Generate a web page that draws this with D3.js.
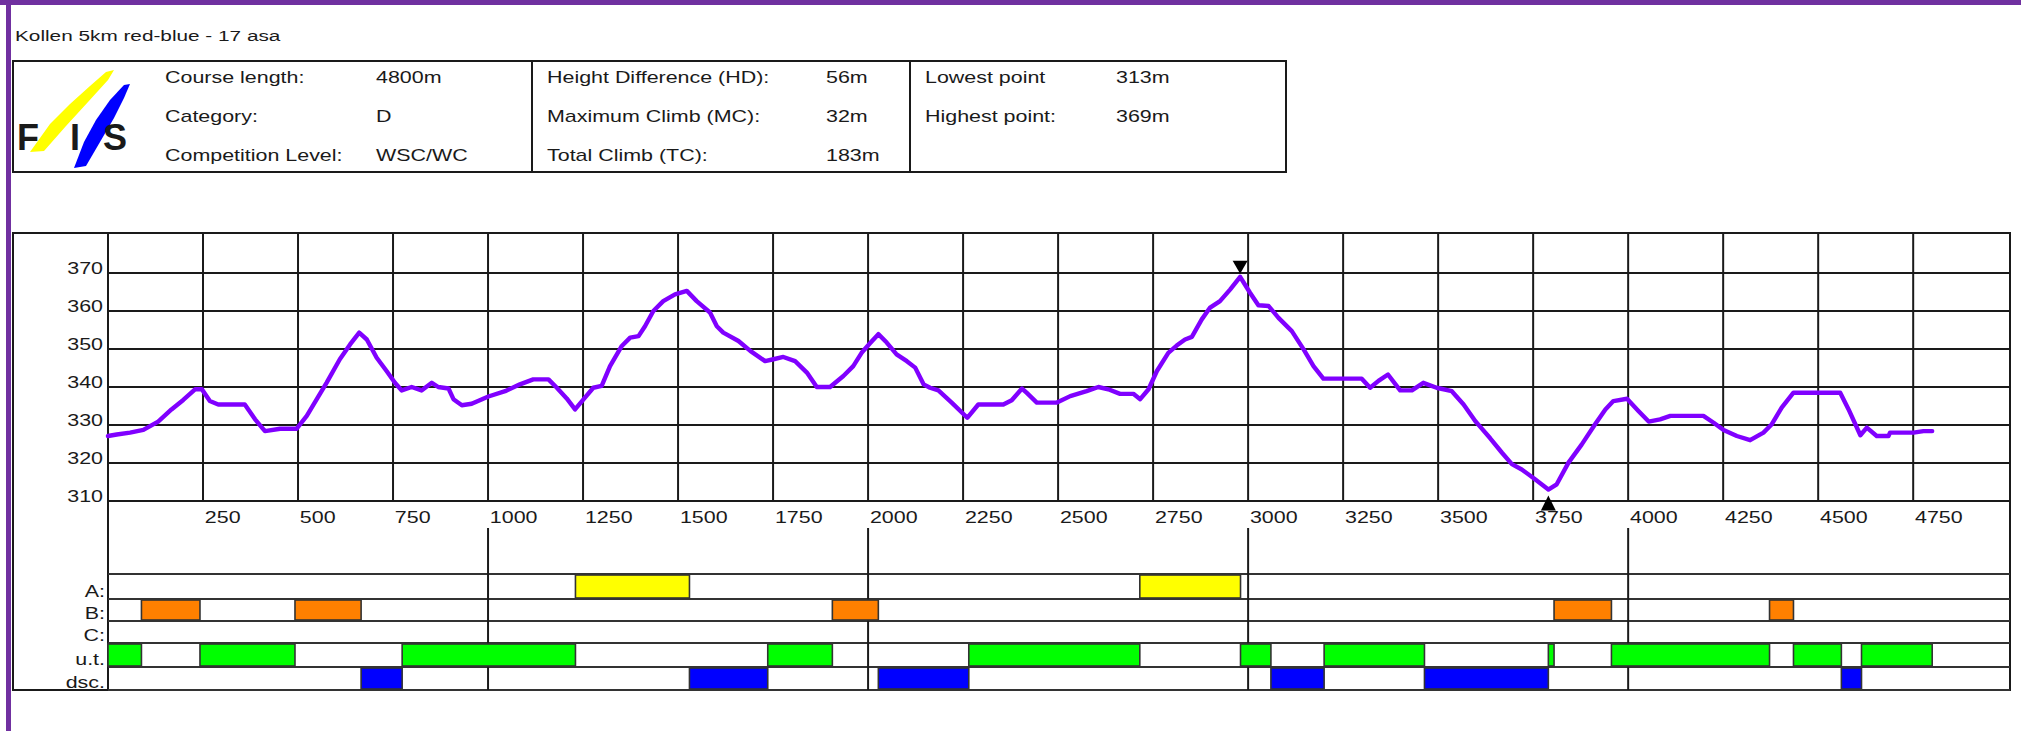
<!DOCTYPE html>
<html>
<head>
<meta charset="utf-8">
<script src="https://cdn.jsdelivr.net/npm/d3@7"></script>
<style>
  html, body { margin: 0; padding: 0; background: #fff; }
  svg { display: block; }
  text { font-family: "Liberation Sans", Arial, sans-serif; fill: #1a1a1a; }
</style>
</head>
<body>
<svg id="chart" width="2021" height="731"></svg>
<script>
// ---- data ----
var title = "Kollen 5km red-blue -  17 asa";

var infoLabels1 = ["Course length:", "Category:", "Competition Level:"];
var infoValues1 = ["4800m", "D", "WSC/WC"];
var infoLabels2 = ["Height Difference (HD):", "Maximum Climb (MC):", "Total Climb (TC):"];
var infoValues2 = ["56m", "32m", "183m"];
var infoLabels3 = ["Lowest point", "Highest point:"];
var infoValues3 = ["313m", "369m"];

// distance along course (m) and height (m)
var distances = [0, 23, 58, 93, 132, 167, 198, 229, 247, 268, 290, 360, 387, 413, 453, 496, 523, 575, 610, 637,
  661, 681, 707, 733, 755, 773, 799, 825, 852, 869, 896, 909, 931, 957, 1001, 1045, 1084, 1119, 1159, 1181,
  1207, 1229, 1255, 1277, 1299, 1321, 1352, 1374, 1396, 1413, 1435, 1461, 1492, 1523, 1549, 1584, 1602, 1619, 1659, 1690,
  1729, 1751, 1777, 1808, 1839, 1865, 1900, 1935, 1961, 1983, 2005, 2027, 2049, 2075, 2102, 2124, 2146, 2163, 2185, 2220,
  2261, 2290, 2356, 2378, 2405, 2417, 2444, 2497, 2532, 2575, 2606, 2632, 2663, 2698, 2716, 2738, 2760, 2790, 2812, 2834,
  2852, 2878, 2900, 2926, 2953, 2979, 3005, 3027, 3054, 3080, 3115, 3146, 3172, 3198, 3299, 3321, 3343, 3368, 3400, 3431,
  3461, 3496, 3536, 3567, 3598, 3611, 3637, 3668, 3694, 3720, 3755, 3790, 3812, 3843, 3878, 3913, 3940, 3961, 3997, 4027,
  4054, 4084, 4111, 4198, 4225, 4251, 4286, 4321, 4356, 4378, 4404, 4435, 4558, 4580, 4611, 4628, 4654, 4685, 4689, 4751,
  4777, 4800];
var elevations = [327.1, 327.5, 328, 328.7, 330.9, 334.1, 336.6, 339.4, 339.4, 336.3, 335.4, 335.4, 331.5, 328.4, 329, 329, 332.4, 341.1, 347.3, 351.2,
  354.3, 352.5, 347.7, 344.2, 341.1, 339.1, 340, 339.1, 341.1, 340, 339.6, 336.8, 335.2, 335.6, 337.5, 338.9, 340.7, 342, 342, 339.8,
  337, 334.1, 337.2, 339.8, 340.3, 345.5, 350.8, 353, 353.4, 356, 360, 362.6, 364.4, 365.3, 362.6, 359.6, 356, 354.3, 352.1, 349.5,
  346.8, 347.3, 347.9, 346.8, 343.8, 340, 340, 342.9, 345.5, 349, 351.5, 353.9, 351.7, 348.6, 346.8, 345.1, 340.7, 339.8, 339.1, 335.9,
  331.9, 335.4, 335.4, 336.5, 339.6, 338.5, 335.9, 335.9, 337.6, 338.9, 340, 339.4, 338.2, 338.2, 336.8, 339.4, 344.2, 349, 350.9, 352.5,
  353.2, 357.8, 360.9, 362.6, 365.7, 369, 364.8, 361.5, 361.3, 358.2, 354.7, 349.9, 345.5, 342.2, 342.2, 339.8, 341.6, 343.3, 339.1, 339.1,
  341.1, 339.8, 338.9, 335.4, 331, 329.5, 326.5, 322.7, 319.7, 318.3, 315.7, 313, 314.4, 320.1, 324.9, 330.2, 334.1, 336.3, 336.9, 333.7,
  330.9, 331.5, 332.4, 332.4, 330.6, 328.7, 327.1, 326, 328, 330.2, 334.6, 338.5, 338.5, 334.1, 327.3, 329.3, 327.1, 327.1, 328, 328,
  328.4, 328.4];

var yTicks = [310, 320, 330, 340, 350, 360, 370];
var xTicks = [250, 500, 750, 1000, 1250, 1500, 1750, 2000, 2250, 2500, 2750, 3000, 3250, 3500, 3750, 4000, 4250, 4500, 4750];
var kmMarks = [1000, 2000, 3000, 4000];

// terrain sections, [from, to] in metres
var rowNames = ["A:", "B:", "C:", "u.t.", "dsc."];
var sectionsA = [[1230, 1530], [2715, 2980]];
var sectionsB = [[88, 242], [492, 666], [1906, 2027], [3805, 3956], [4372, 4435]];
var sectionsC = [];
var sectionsUT = [[0, 88], [242, 492], [774, 1230], [1736, 1906], [2265, 2715], [2980, 3060], [3200, 3464], [3790, 3805], [3956, 4372], [4435, 4561], [4614, 4800]];
var sectionsDsc = [[666, 774], [1530, 1736], [2027, 2265], [3060, 3200], [3464, 3790], [4561, 4614]];

// ---- layout ----
var SX = 1.34;            // the source is drawn with wide glyphs
var rowColors = ["#ffff00", "#ff8000", "#ff0000", "#00ff00", "#0000ff"];
var rowY = [574, 599, 621, 643, 667, 690];
var lineCol = "#1a1a1a";
var lw = 2;

var svg = d3.select("#chart");

var x = d3.scaleLinear().domain([0, 5010]).range([108, 2012]);
var y = d3.scaleLinear().domain([310, 370]).range([501, 273]);

function wideText(parent, px, py, str, size, anchor, weight) {
  var t = parent.append("g")
    .attr("transform", "translate(" + px + "," + py + ") scale(" + SX + ",1)")
    .append("text")
    .attr("font-size", size)
    .attr("text-anchor", anchor || "start")
    .text(str);
  if (weight) t.attr("font-weight", weight);
  return t;
}

// purple window frame
svg.append("rect").attr("x", 0).attr("y", 0).attr("width", 2021).attr("height", 5).attr("fill", "#7030a0");
svg.append("rect").attr("x", 6).attr("y", 0).attr("width", 5).attr("height", 731).attr("fill", "#7030a0");

wideText(svg, 15, 41, title, 15.5);

// ---- header table ----
var head = svg.append("g");
head.append("rect").attr("x", 13).attr("y", 61).attr("width", 1273).attr("height", 111)
  .attr("fill", "none").attr("stroke", lineCol).attr("stroke-width", lw);
[532, 910].forEach(function(px) {
  head.append("line").attr("x1", px).attr("x2", px).attr("y1", 61).attr("y2", 172)
    .attr("stroke", lineCol).attr("stroke-width", lw);
});
var rowBase = [83, 122, 161];
infoLabels1.forEach(function(s, i) { wideText(head, 165, rowBase[i], s, 16); });
infoValues1.forEach(function(s, i) { wideText(head, 376, rowBase[i], s, 16); });
infoLabels2.forEach(function(s, i) { wideText(head, 547, rowBase[i], s, 16); });
infoValues2.forEach(function(s, i) { wideText(head, 826, rowBase[i], s, 16); });
infoLabels3.forEach(function(s, i) { wideText(head, 925, rowBase[i], s, 16); });
infoValues3.forEach(function(s, i) { wideText(head, 1116, rowBase[i], s, 16); });

// FIS logo: two brush strokes and the letters
var logo = head.append("g");
logo.append("path").attr("fill", "#ffff00")
  .attr("d", "M30,152 L44,151 L66,126 L88,102 L108,80 L114,70 L106,72 L90,86 L70,104 L50,124 Z");
logo.append("path").attr("fill", "#0000ff")
  .attr("d", "M74,168 L86,166 L100,142 L114,118 L124,98 L130,84 L124,85 L110,100 L96,120 L84,142 Z");
logo.append("text").attr("x", 17).attr("y", 150).attr("font-size", 36).attr("font-weight", "bold").text("F");
logo.append("text").attr("x", 70).attr("y", 150).attr("font-size", 36).attr("font-weight", "bold").text("I");
logo.append("text").attr("x", 103).attr("y", 150).attr("font-size", 36).attr("font-weight", "bold").text("S");

// ---- profile chart ----
var plot = svg.append("g");
plot.append("rect").attr("x", 13).attr("y", 233).attr("width", 1997).attr("height", 457)
  .attr("fill", "#fff").attr("stroke", lineCol).attr("stroke-width", lw);

plot.selectAll("line.hgrid").data(yTicks).join("line")
  .attr("class", "hgrid")
  .attr("x1", x(0)).attr("x2", 2010)
  .attr("y1", function(d) { return y(d); }).attr("y2", function(d) { return y(d); })
  .attr("stroke", lineCol).attr("stroke-width", lw);

plot.selectAll("line.vgrid").data(xTicks).join("line")
  .attr("class", "vgrid")
  .attr("x1", function(d) { return x(d); }).attr("x2", function(d) { return x(d); })
  .attr("y1", 233).attr("y2", y(310))
  .attr("stroke", lineCol).attr("stroke-width", lw);

// y axis line runs down through the section rows
plot.append("line").attr("x1", x(0)).attr("x2", x(0)).attr("y1", 233).attr("y2", 690)
  .attr("stroke", lineCol).attr("stroke-width", lw);

var yAxis = plot.append("g").attr("transform", "translate(103,0)")
  .call(d3.axisLeft(y).tickValues(yTicks).tickSize(0).tickPadding(0));
yAxis.select(".domain").remove();
yAxis.selectAll("text")
  .attr("font-size", 16).attr("font-family", null).attr("fill", "#1a1a1a")
  .attr("dy", "0.05em").attr("x", 0)
  .attr("transform", "scale(" + SX + ",1)");

var xAxis = plot.append("g").attr("transform", "translate(0,523)")
  .call(d3.axisBottom(x).tickValues(xTicks).tickFormat(d3.format("d")).tickSize(0).tickPadding(0));
xAxis.select(".domain").remove();
xAxis.selectAll("text")
  .attr("font-size", 16).attr("font-family", null).attr("fill", "#1a1a1a")
  .attr("text-anchor", "start").attr("x", 1).attr("y", 0).attr("dy", 0)
  .attr("transform", "scale(" + SX + ",1)");

var profile = d3.zip(distances, elevations);
plot.append("path").datum(profile)
  .attr("fill", "none").attr("stroke", "#8000ff").attr("stroke-width", 4.4)
  .attr("stroke-linejoin", "round").attr("stroke-linecap", "round")
  .attr("d", d3.line().x(function(d) { return x(d[0]); }).y(function(d) { return y(d[1]); }));

// highest / lowest markers
var hi = profile[d3.maxIndex(profile, function(d) { return d[1]; })];
var lo = profile[d3.minIndex(profile, function(d) { return d[1]; })];
var hx = x(hi[0]), hy = y(hi[1]);
plot.append("path").attr("fill", "#000")
  .attr("d", "M" + (hx - 7.5) + "," + (hy - 16) + "L" + (hx + 7.5) + "," + (hy - 16) + "L" + hx + "," + (hy - 3) + "Z");
var lx = x(lo[0]), ly = y(lo[1]);
plot.append("path").attr("fill", "#000")
  .attr("d", "M" + (lx - 7.5) + "," + (ly + 21) + "L" + (lx + 7.5) + "," + (ly + 21) + "L" + lx + "," + (ly + 6) + "Z");

// ---- terrain section rows ----
var rows = svg.append("g");
rows.selectAll("line.row").data(rowY).join("line")
  .attr("class", "row")
  .attr("x1", x(0)).attr("x2", 2010)
  .attr("y1", function(d) { return d; }).attr("y2", function(d) { return d; })
  .attr("stroke", "#333").attr("stroke-width", 2.2);

rows.selectAll("line.km").data(kmMarks).join("line")
  .attr("class", "km")
  .attr("x1", function(d) { return x(d); }).attr("x2", function(d) { return x(d); })
  .attr("y1", 528).attr("y2", 690)
  .attr("stroke", lineCol).attr("stroke-width", lw);

[sectionsA, sectionsB, sectionsC, sectionsUT, sectionsDsc].forEach(function(list, i) {
  rows.selectAll("rect.r" + i).data(list).join("rect")
    .attr("class", "r" + i)
    .attr("x", function(d) { return x(d[0]); })
    .attr("width", function(d) { return x(d[1]) - x(d[0]); })
    .attr("y", rowY[i] + 1).attr("height", rowY[i + 1] - rowY[i] - 2)
    .attr("fill", rowColors[i]).attr("stroke", "#333").attr("stroke-width", 1.6);
});

rowNames.forEach(function(s, i) { wideText(rows, 105, rowY[i + 1] - 2, s, 16, "end"); });
</script>
</body>
</html>
